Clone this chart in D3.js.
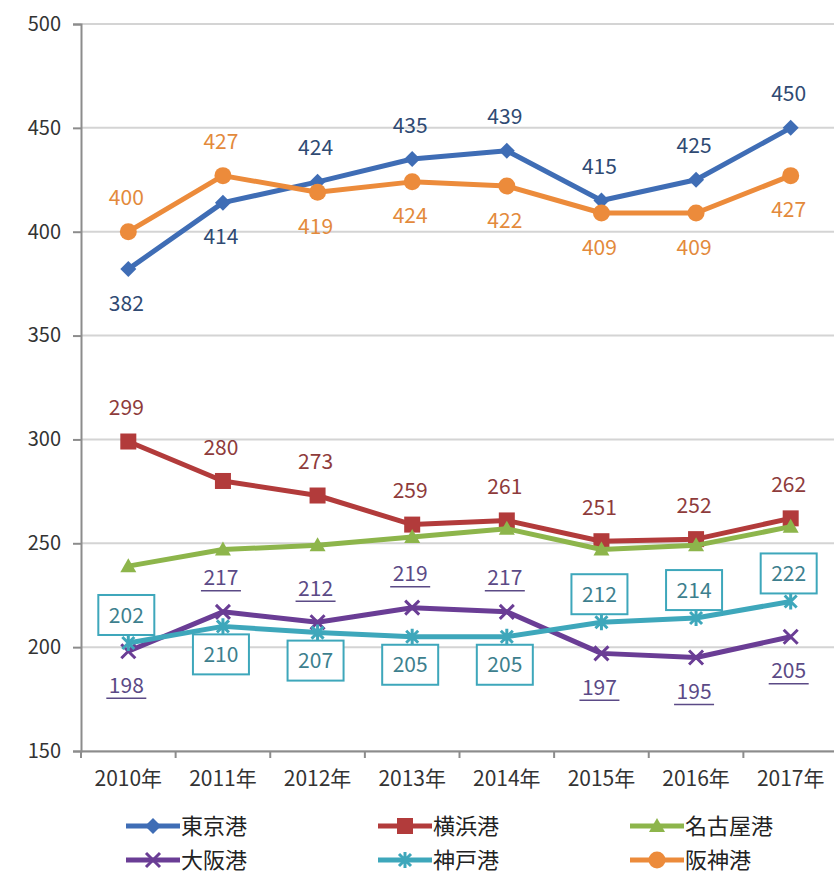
<!DOCTYPE html>
<html><head><meta charset="utf-8">
<script src="https://cdn.jsdelivr.net/npm/d3@7"></script>
<style>body{margin:0;background:#fff}svg{display:block}</style>
</head><body>
<script>
const categories = ["2010年","2011年","2012年","2013年","2014年","2015年","2016年","2017年"];
const yTicks = [150,200,250,300,350,400,450,500];
const tokyo   = [382,414,424,435,439,415,425,450];
const yokohama= [299,280,273,259,261,251,252,262];
const nagoya  = [239,247,249,253,257,247,249,258];
const osaka   = [198,217,212,219,217,197,195,205];
const kobe    = [202,210,207,205,205,212,214,222];
const hanshin = [400,427,419,424,422,409,409,427];
const seriesNames = ["東京港","横浜港","名古屋港","大阪港","神戸港","阪神港"];
// label placement: 1 above, -1 below, 0 none
const tokyoPos   = [-1,-1,1,1,1,1,1,1];
const yokohamaPos= [1,1,1,1,1,1,1,1];
const nagoyaPos  = [0,0,0,0,0,0,0,0];
const osakaPos   = [-1,1,1,1,1,-1,-1,-1];
const kobePos    = [1,-1,-1,-1,-1,1,1,1];
const hanshinPos = [1,1,-1,-1,-1,-1,-1,-1];

const W=834,H=877;
const svg=d3.select("body").append("svg").attr("width",W).attr("height",H);
const font='"Noto Sans CJK JP","Noto Sans",sans-serif';
const x=d3.scaleBand().domain(categories).range([81,838]);
const y=d3.scaleLinear().domain([150,500]).range([751,24]);

// grid
svg.append("g").selectAll("line").data(yTicks).join("line")
  .attr("x1",81).attr("x2",W).attr("y1",d=>y(d)).attr("y2",d=>y(d))
  .attr("stroke","#d4d4d4").attr("stroke-width",2);
// y axis
const ya=svg.append("g").attr("transform","translate(81,0)")
  .call(d3.axisLeft(y).tickValues(yTicks).tickSize(8).tickPadding(12));
ya.select(".domain").attr("stroke","#8c8c8c").attr("stroke-width",2);
ya.selectAll(".tick line").attr("stroke","#8c8c8c").attr("stroke-width",2);
ya.selectAll("text").attr("font-family",font).attr("font-size",20).attr("fill","#333");
// x axis
const xa=svg.append("g").attr("transform","translate(0,751)")
  .call(d3.axisBottom(x).tickSize(0).tickPadding(20));
xa.select(".domain").attr("stroke","#8c8c8c").attr("stroke-width",2);
xa.selectAll("text").attr("font-family",font).attr("font-size",21).attr("fill","#333");
svg.append("g").selectAll("line").data(categories).join("line")
  .attr("x1",d=>x(d)).attr("x2",d=>x(d)).attr("y1",751).attr("y2",758)
  .attr("stroke","#8c8c8c").attr("stroke-width",2);

const cx=i=>x(categories[i])+x.bandwidth()/2;
const S=[
 {name:seriesNames[0],vals:tokyo,pos:tokyoPos,color:"#3f6db5",lab:"#2f4a73",m:"diamond"},
 {name:seriesNames[1],vals:yokohama,pos:yokohamaPos,color:"#b23b3b",lab:"#8e3b3b",m:"square"},
 {name:seriesNames[2],vals:nagoya,pos:nagoyaPos,color:"#8db54b",lab:"#5e7d2e",m:"triangle"},
 {name:seriesNames[3],vals:osaka,pos:osakaPos,color:"#6a3d95",lab:"#5b4a86",m:"x",under:true},
 {name:seriesNames[4],vals:kobe,pos:kobePos,color:"#3ea7bb",lab:"#3d7f8e",m:"star",box:true},
 {name:seriesNames[5],vals:hanshin,pos:hanshinPos,color:"#ec8b3b",lab:"#e38a3c",m:"circle"}
];
function marker(g,type,color){
  if(type==="diamond") g.append("path").attr("d","M0,-8L8,0L0,8L-8,0Z").attr("fill",color);
  else if(type==="square") g.append("rect").attr("x",-8).attr("y",-8).attr("width",16).attr("height",16).attr("fill",color);
  else if(type==="triangle") g.append("path").attr("d","M0,-8L8,6L-8,6Z").attr("fill",color);
  else if(type==="circle") g.append("circle").attr("r",8.5).attr("fill",color);
  else if(type==="x") g.append("path").attr("d","M-7,-7L7,7M-7,7L7,-7").attr("stroke",color).attr("stroke-width",3);
  else if(type==="star") g.append("path").attr("d","M-6,-6L6,6M-6,6L6,-6M0,-8L0,8").attr("stroke",color).attr("stroke-width",3);
}
const line=d3.line().x((d,i)=>cx(i)).y(d=>y(d));
S.forEach(s=>{
  svg.append("path").attr("d",line(s.vals)).attr("fill","none")
    .attr("stroke",s.color).attr("stroke-width",5).attr("stroke-linejoin","round");
  s.vals.forEach((v,i)=>{
    const g=svg.append("g").attr("transform",`translate(${cx(i)},${y(v)})`);
    marker(g,s.m,s.color);
  });
});
// labels
S.forEach(s=>{
  s.vals.forEach((v,i)=>{
    const p=s.pos[i]; if(!p) return;
    const off = s.box ? 28 : 34;
    const ly=y(v)-p*off;
    const g=svg.append("g").attr("transform",`translate(${cx(i)-2},${ly})`);
    if(s.box) g.append("rect").attr("x",-28).attr("y",-20).attr("width",56).attr("height",40)
      .attr("fill","#fff").attr("stroke",s.color).attr("stroke-width",2);
    g.append("text").attr("text-anchor","middle").attr("dy","0.36em")
      .attr("font-family",font).attr("font-size",21).attr("fill",s.lab).text(v);
    if(s.under) g.append("line").attr("x1",-20).attr("x2",20).attr("y1",13).attr("y2",13)
      .attr("stroke",s.lab).attr("stroke-width",1.5);
  });
});
// legend
const lx=[126,378,630], ly=[826,860];
S.forEach((s,k)=>{
  const c=k%3,r=Math.floor(k/3);
  const g=svg.append("g").attr("transform",`translate(${lx[c]},${ly[r]})`);
  g.append("line").attr("x1",0).attr("x2",54).attr("stroke",s.color).attr("stroke-width",5);
  const mg=g.append("g").attr("transform","translate(27,0)");
  marker(mg,s.m,s.color);
  g.append("text").attr("x",55).attr("dy","0.36em").attr("font-family",font)
    .attr("font-size",22).attr("fill","#222").text(s.name);
});
</script>
</body></html>
